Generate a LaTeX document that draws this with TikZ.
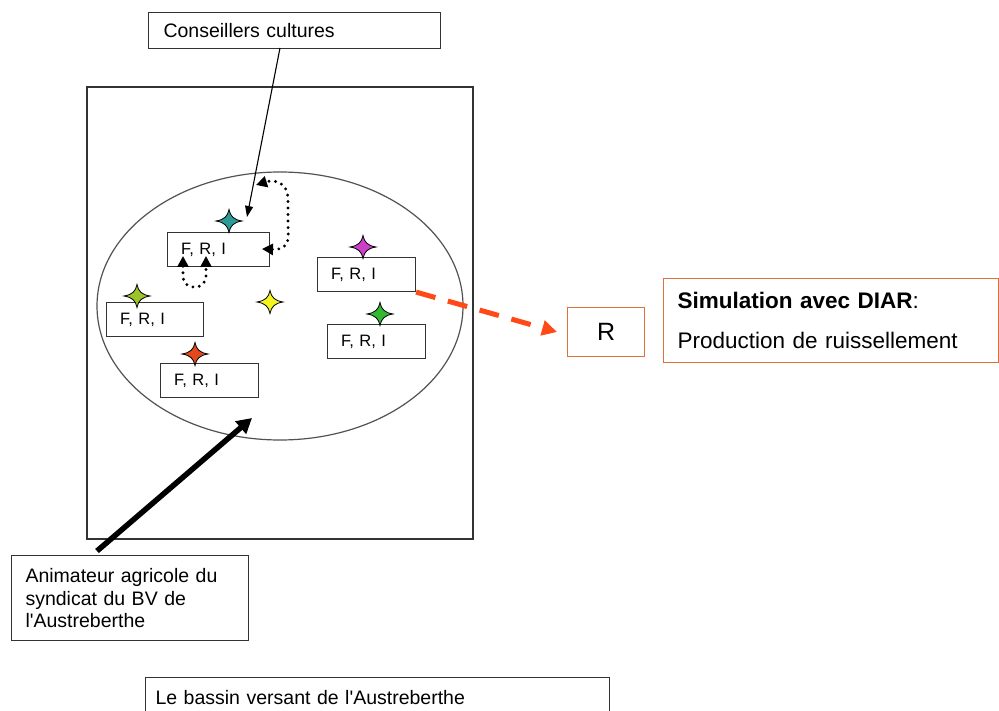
\documentclass[tikz,border=0pt]{standalone}
\usepackage{fontspec}
\setmainfont{Liberation Sans}
\usetikzlibrary{arrows.meta}
\definecolor{linec}{HTML}{333333}
\definecolor{orangeb}{HTML}{E0703A}
\definecolor{reddash}{HTML}{FF4A18}
\definecolor{sTeal}{HTML}{2E9A96}
\definecolor{sMag}{HTML}{CC3FC8}
\definecolor{sGreen}{HTML}{33B833}
\definecolor{sYG}{HTML}{9CC42A}
\definecolor{sRed}{HTML}{E24A1E}
\definecolor{sYel}{HTML}{F4F420}
\tikzset{
  box/.style={draw=linec, line width=1.1pt, anchor=north west, inner ysep=0pt, align=left},
  frbox/.style={box, inner xsep=13.5pt, minimum height=34pt, font=\fontsize{16.5}{19}\selectfont},
  obox/.style={draw=orangeb, line width=1.1pt, anchor=north west, inner ysep=0pt},
  thinarrow/.style={draw=black, line width=1.1pt, -{Triangle[length=11pt,width=8pt]}},
  thickarrow/.style={draw=black, line width=5.5pt, -{Triangle[length=15pt,width=16pt]}},
  reddashed/.style={draw=reddash, line width=5pt, dash pattern=on 20pt off 13pt, -{Triangle[length=15pt,width=15pt]}},
  dotloop/.style={draw=black, line width=3.2pt, line cap=round, dash pattern=on 0pt off 6.5pt,
     {Triangle[length=11pt,width=11pt]}-{Triangle[length=11pt,width=11pt]}},
  star4/.pic={\path[draw=black, line width=0.8pt, fill=#1]
     (0,-11.5) .. controls (1.5,-4.5) and (4.5,-1.5) .. (13,0) .. controls (4.5,1.5) and (1.5,4.5) .. (0,11.5)
     .. controls (-1.5,4.5) and (-4.5,1.5) .. (-13,0) .. controls (-4.5,-1.5) and (-1.5,-4.5) .. cycle;}
}
\begin{document}
\begin{tikzpicture}[x=1pt,y=-1pt]
\useasboundingbox (0,0) rectangle (999,711);
\fill[white] (0,0) rectangle (999,711);

% frame and ellipse
\draw[draw=linec, line width=1.2pt] (87,87) rectangle (473,539);
\draw[draw=linec!85, line width=1.2pt] (280,306) ellipse [x radius=183, y radius=134];

% top box
\node[box, inner xsep=15pt, minimum height=36pt, text width=262pt,
      font=\fontsize{19.5}{23}\selectfont] (cons) at (148,12) {Conseillers cultures};

% F,R,I boxes
\node[frbox, text width=75pt] (b1) at (167,232) {F, R, I};
\node[frbox, text width=71pt] (b2) at (317,257) {F, R, I};
\node[frbox, text width=71pt] (b3) at (327,324) {F, R, I};
\node[frbox, text width=70pt] (b4) at (106,302) {F, R, I};
\node[frbox, text width=71pt] (b5) at (160,363) {F, R, I};

% stars
\pic at (229,221) {star4=sTeal};
\pic at (363,247) {star4=sMag};
\pic at (380,314) {star4=sGreen};
\pic at (137,296) {star4=sYG};
\pic at (195,354) {star4=sRed};
\pic at (270,302) {star4=sYel};

% right boxes
\node[obox, minimum width=77pt, minimum height=49pt, inner xsep=0pt,
      font=\fontsize{25}{28}\selectfont] (R) at (567,307) {R};
\node[obox, inner xsep=14pt, minimum height=84pt, text width=307pt, align=left,
      font=\fontsize{22.5}{40}\selectfont] (sim) at (663,278)
      {\textbf{Simulation avec DIAR}:\\Production de ruissellement};

% bottom-left boxes
\node[box, inner xsep=14pt, minimum height=85pt, text width=209pt,
      font=\fontsize{19.5}{22.5}\selectfont] (anim) at (11,555)
      {Animateur agricole du\\syndicat du BV de\\l\textquotesingle Austreberthe};
\node[box, inner xsep=10pt, minimum height=40pt, text width=444pt,
      font=\fontsize{19.5}{23}\selectfont] (bv) at (145,677)
      {Le bassin versant de l\textquotesingle Austreberthe};

% connectors
\coordinate (cs) at (280,48);
\coordinate (ce) at (247,217);
\draw[thinarrow] (cs) -- (ce);

\coordinate (as) at (97,551);
\coordinate (ae) at (252,418);
\draw[thickarrow] (as) -- (ae);

\coordinate (re) at (557,332);
\draw[reddashed] (b2.south east) -- (re);

\coordinate (l1a) at (262,249);
\coordinate (l1b) at (256,185);
\draw[dotloop] (l1a) .. controls (292,250) and (288,236) .. (288,222) -- (288,200)
   .. controls (288,180) and (272,180) .. (l1b);

\coordinate (l2a) at (183,256);
\coordinate (l2b) at (206,256);
\draw[dotloop] (l2a) -- (183,276) .. controls (183,291) and (206,291) .. (206,276) -- (l2b);
\end{tikzpicture}
\end{document}
